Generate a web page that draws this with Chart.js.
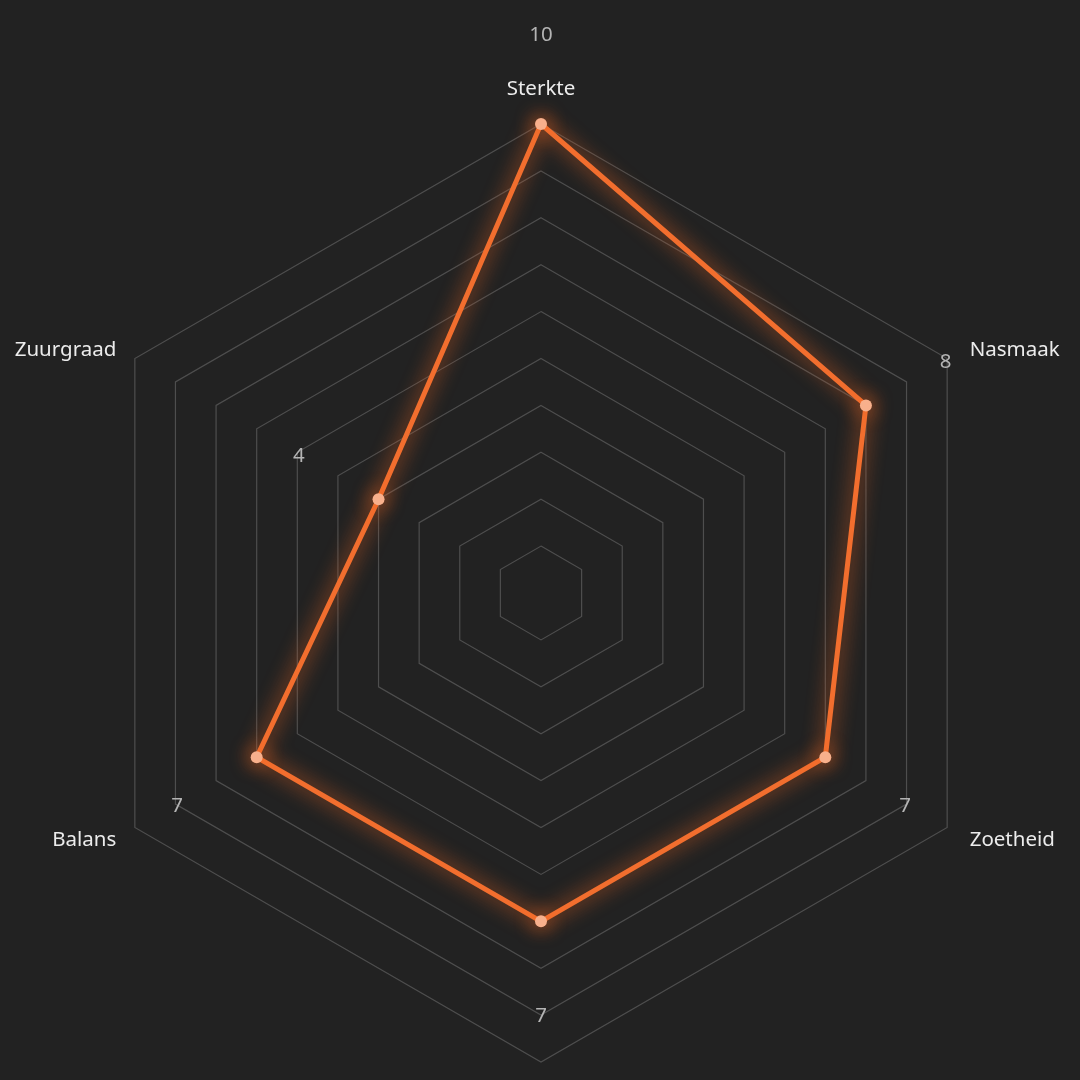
<!DOCTYPE html>
<html>
<head>
<meta charset="utf-8">
<script src="https://cdn.jsdelivr.net/npm/chart.js@4/dist/chart.umd.min.js"></script>
<style>
  html, body { margin: 0; padding: 0; background: #222222; }
  #wrap { width: 1080px; height: 1080px; position: relative; }
</style>
</head>
<body>
<div id="wrap"><canvas id="c"></canvas></div>
<script>
const categories = ['Sterkte', 'Nasmaak', 'Zoetheid', 'Aroma', 'Balans', 'Zuurgraad'];
const scores = [10, 8, 7, 7, 7, 4];
const scaleMin = 0;
const scaleMax = 10;

const FONT = '"Noto Sans", "Open Sans", sans-serif';

const glowPlugin = {
  id: 'glow',
  beforeDatasetDraw(chart) {
    const ctx = chart.ctx;
    ctx.save();
    ctx.shadowColor = 'rgba(245,105,35,1)';
    ctx.shadowBlur = 20;
  },
  afterDatasetDraw(chart) {
    chart.ctx.restore();
  }
};

const labelsPlugin = {
  id: 'radarLabels',
  afterDatasetsDraw(chart) {
    const ctx = chart.ctx;
    const scale = chart.scales.r;
    const R = scale.drawingArea;
    ctx.save();
    // category labels around the web
    ctx.font = '20.5px ' + FONT;
    ctx.fillStyle = '#ececec';
    ctx.textBaseline = 'middle';
    categories.forEach((name, i) => {
      const p = scale.getPointPosition(i, R + 26);
      const a = p.angle;
      const cx = Math.cos(a), cy = Math.sin(a);
      let align = 'center';
      if (cx > 0.1) align = 'left';
      else if (cx < -0.1) align = 'right';
      let y;
      if (align === 'center') {
        y = p.y + (cy < 0 ? -11 : 11);
      } else {
        y = scale.yCenter + cy * (R + 21);
      }
      ctx.textAlign = align;
      ctx.fillText(name, align === 'right' ? p.x + 4 : p.x, y + 2);
    });
    // value labels
    ctx.fillStyle = '#b4b4b4';
    ctx.textAlign = 'center';
    scores.forEach((v, i) => {
      const d = scale.getDistanceFromCenterForValue(v) + 92;
      const p = scale.getPointPosition(i, d);
      ctx.fillText(String(v), p.x, p.y + 3);
    });
    ctx.restore();
  }
};

new Chart(document.getElementById('c'), {
  type: 'radar',
  data: {
    labels: categories,
    datasets: [{
      data: scores,
      borderColor: '#f26e2e',
      borderWidth: 5,
      fill: false,
      tension: 0,
      pointRadius: 6,
      pointHoverRadius: 6,
      pointBackgroundColor: '#f8b08c',
      pointBorderWidth: 0
    }]
  },
  options: {
    responsive: true,
    maintainAspectRatio: false,
    animation: false,
    layout: { padding: { left: 72, right: 70, top: 124, bottom: 18 } },
    plugins: {
      legend: { display: false },
      tooltip: { enabled: false }
    },
    scales: {
      r: {
        min: scaleMin,
        max: scaleMax,
        beginAtZero: true,
        ticks: { display: false, stepSize: 1 },
        pointLabels: { display: false },
        angleLines: { display: false },
        grid: { color: '#4e4e4e', lineWidth: 1.2 }
      }
    }
  },
  plugins: [glowPlugin, labelsPlugin]
});
</script>
</body>
</html>
